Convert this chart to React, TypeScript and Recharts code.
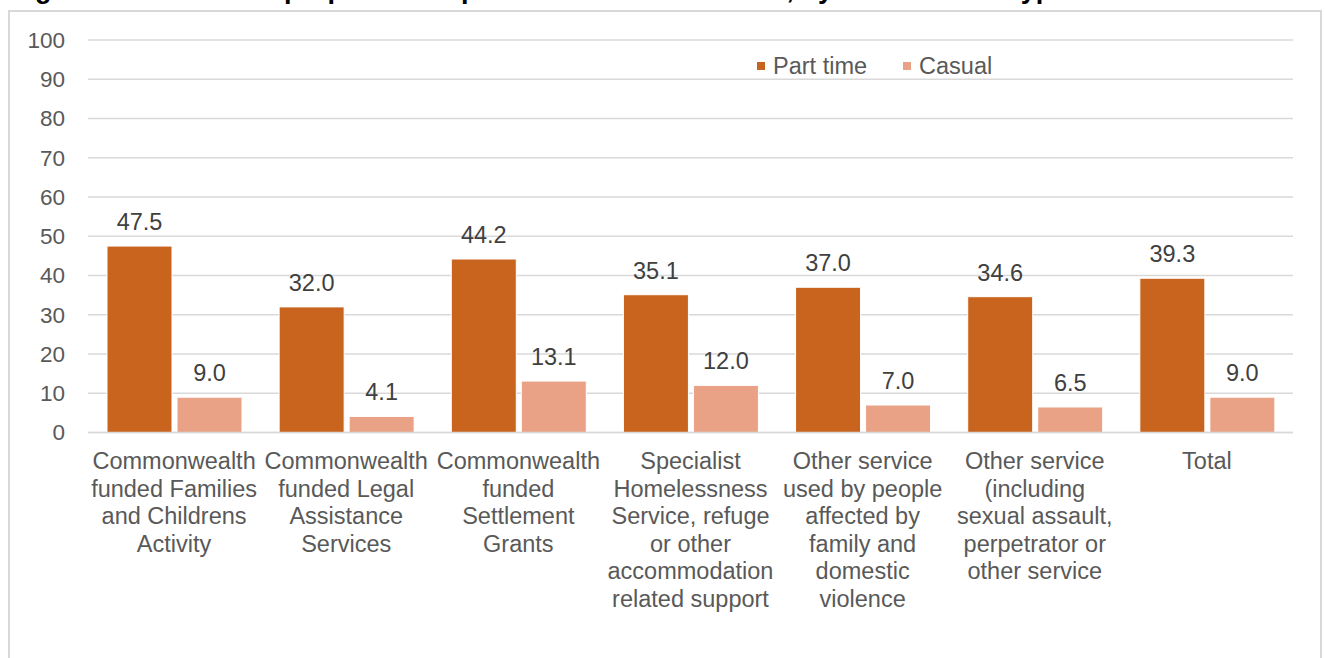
import React from 'react';
import { BarChart, Bar, XAxis, YAxis, CartesianGrid, LabelList } from 'recharts';

const titleText = 'Figure 12: Estimated proportion of part time and casual staff, by main service type';

const categories: string[] = [
  'Commonwealth\nfunded Families\nand Childrens\nActivity',
  'Commonwealth\nfunded Legal\nAssistance\nServices',
  'Commonwealth\nfunded\nSettlement\nGrants',
  'Specialist\nHomelessness\nService, refuge\nor other\naccommodation\nrelated support',
  'Other service\nused by people\naffected by\nfamily and\ndomestic\nviolence',
  'Other service\n(including\nsexual assault,\nperpetrator or\nother service',
  'Total',
];

const partTime: number[] = [47.5, 32.0, 44.2, 35.1, 37.0, 34.6, 39.3];
const casual: number[] = [9.0, 4.1, 13.1, 12.0, 7.0, 6.5, 9.0];
const yTicks: number[] = [0, 10, 20, 30, 40, 50, 60, 70, 80, 90, 100];

const series = [
  { key: 'partTime', name: 'Part time', color: '#C8641E' },
  { key: 'casual', name: 'Casual', color: '#E9A285' },
];

const data = categories.map((c, i) => ({ name: c, partTime: partTime[i], casual: casual[i] }));

const FONT = '"Liberation Sans", Arial, sans-serif';

const XTick = (props: any) => {
  const { x, y, payload } = props;
  const lines = String(payload.value).split('\n');
  return (
    <text x={x} y={y + 36.5} textAnchor="middle" fill="#595959" fontSize={23.5} fontFamily={FONT}>
      {lines.map((l, i) => (
        <tspan key={i} x={x} dy={i === 0 ? 0 : 27.6}>
          {l}
        </tspan>
      ))}
    </text>
  );
};

export default function App() {
  return (
    <div style={{ position: 'absolute', left: 0, top: 0, width: 1325, height: 658, overflow: 'hidden', background: '#ffffff' }}>
      <div
        style={{
          position: 'absolute',
          left: 11,
          top: -24,
          fontFamily: FONT,
          fontWeight: 'bold',
          fontSize: 27,
          lineHeight: '27px',
          whiteSpace: 'nowrap',
          color: '#000000',
        }}
      >
        {titleText}
      </div>
      <div
        style={{
          position: 'absolute',
          left: 8,
          top: 10,
          width: 1314,
          height: 700,
          boxSizing: 'border-box',
          border: '2px solid #d9d9d9',
        }}
      />
      <div style={{ position: 'absolute', left: 0, top: 0 }}>
        <BarChart
          width={1325}
          height={658}
          data={data}
          margin={{ top: 40, right: 32, bottom: 25.5, left: 0 }}
          barCategoryGap={19}
          barGap={5}
        >
          <CartesianGrid vertical={false} stroke="#d9d9d9" strokeWidth={1.5} />
          <XAxis
            dataKey="name"
            interval={0}
            height={200}
            tickLine={false}
            tickSize={0}
            tickMargin={0}
            axisLine={{ stroke: '#d9d9d9', strokeWidth: 1.5 }}
            tick={<XTick />}
          />
          <YAxis
            width={88}
            domain={[0, 100]}
            ticks={yTicks}
            interval={0}
            tickLine={false}
            axisLine={false}
            tickSize={0}
            tickMargin={23}
            tick={{ fill: '#595959', fontSize: 22.5, fontFamily: FONT }}
          />
          {series.map((s) => (
            <Bar
              key={s.key}
              dataKey={s.key}
              name={s.name}
              fill={s.color}
              stroke="#ffffff"
              strokeWidth={1}
              isAnimationActive={false}
            >
              <LabelList
                dataKey={s.key}
                position="top"
                offset={16}
                formatter={(v: any) => Number(v).toFixed(1)}
                fill="#404040"
                fontSize={23.5}
                fontFamily={FONT}
              />
            </Bar>
          ))}
        </BarChart>
      </div>
      <div
        style={{
          position: 'absolute',
          left: 757,
          top: 53,
          display: 'flex',
          alignItems: 'center',
          fontFamily: FONT,
          fontSize: 23.5,
          color: '#595959',
        }}
      >
        {series.map((s, i) => (
          <div key={s.key} style={{ display: 'flex', alignItems: 'center', marginRight: i === 0 ? 36 : 0 }}>
            <div style={{ width: 8, height: 8, background: s.color, marginRight: 8 }} />
            <span style={{ lineHeight: '26px' }}>{s.name}</span>
          </div>
        ))}
      </div>
    </div>
  );
}
